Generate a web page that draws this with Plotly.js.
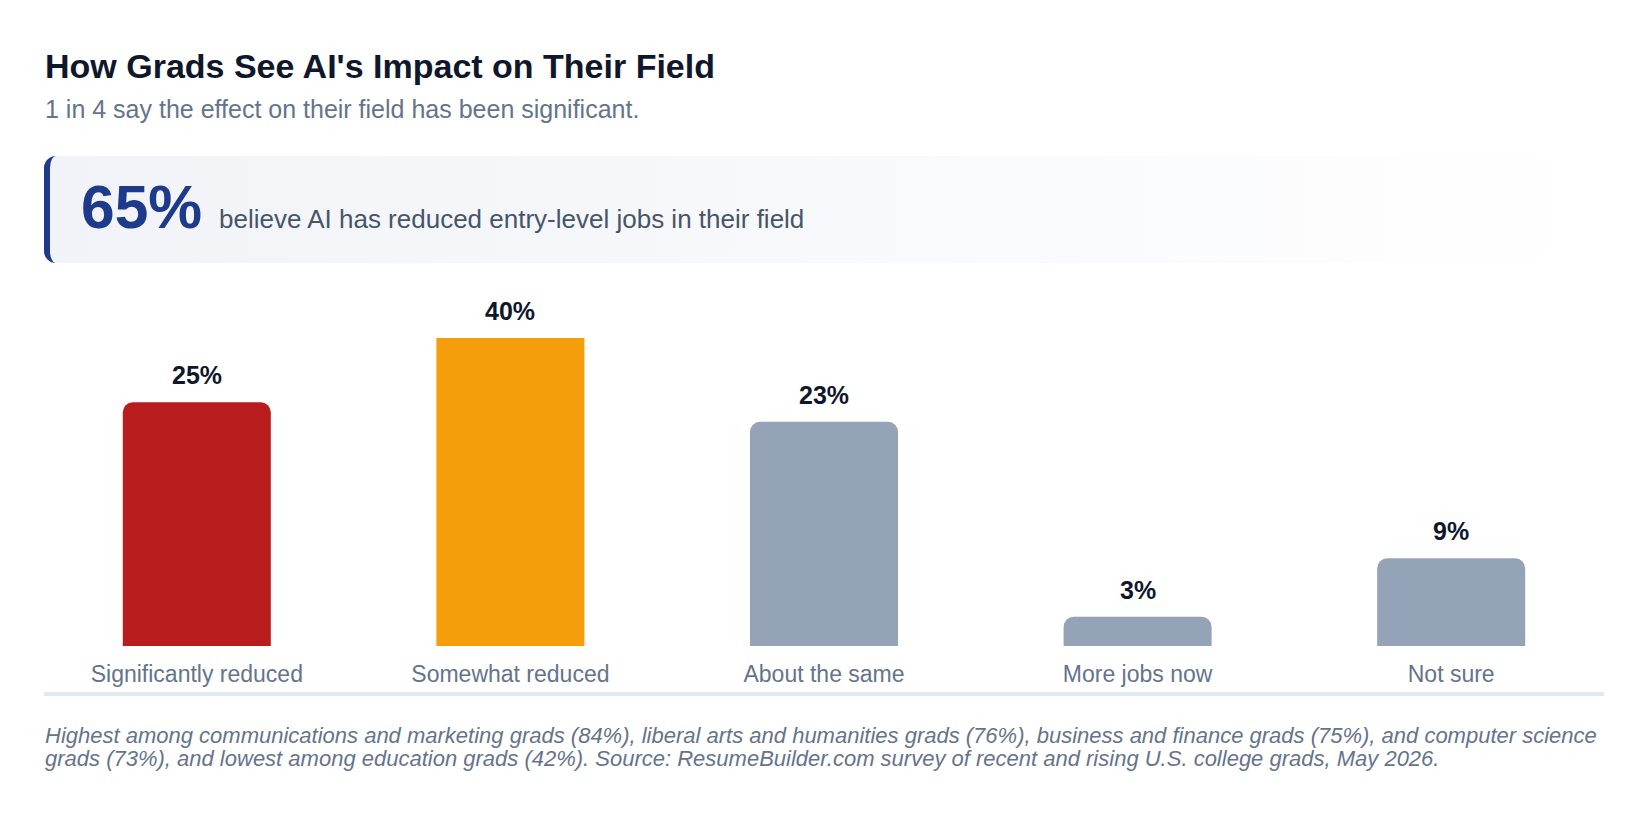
<!DOCTYPE html>
<html>
<head>
<meta charset="utf-8">
<script src="https://cdn.plot.ly/plotly-3.0.1.min.js"></script>
<style>
  html, body { margin: 0; padding: 0; background: #ffffff; }
  #chart { width: 1648px; height: 830px; }
</style>
</head>
<body>
<div id="chart"></div>
<script>
// Survey answers: how grads see AI's effect on entry-level jobs in their field
const categories = ["Significantly reduced", "Somewhat reduced", "About the same", "More jobs now", "Not sure"];
const shares = [25, 40, 23, 3, 9];
const barColors = ["#b91c1c", "#f59e0b", "#94a3b8", "#94a3b8", "#94a3b8"];
const valueLabels = shares.map(v => v + "%");

const headline = "How Grads See AI's Impact on Their Field";
const subhead = "1 in 4 say the effect on their field has been significant.";
const calloutValue = "65%";
const calloutText = "believe AI has reduced entry-level jobs in their field";
const footLines = [
  "Highest among communications and marketing grads (84%), liberal arts and humanities grads (76%), business and finance grads (75%), and computer science",
  "grads (73%), and lowest among education grads (42%). Source: ResumeBuilder.com survey of recent and rising U.S. college grads, May 2026."
];

// Canvas geometry
const W = 1648, H = 830;
const M = { l: 40, r: 40, t: 338, b: 184 };
const plotW = W - M.l - M.r;
const plotH = H - M.t - M.b;
const Y_MAX = 31.6;               // value axis is capped; taller bars run to the top edge
const FONT = "Liberation Sans, Arial, Helvetica, sans-serif";

// pixel -> paper helpers for the text blocks around the plot
const px = x => (x - M.l) / plotW;
const py = y => (H - M.b - y) / plotH;
const DESC = 0.212;               // descender share of the font's box
function textAt(text, x, baseline, size, color, opts) {
  return Object.assign({
    text: text, xref: "paper", yref: "paper",
    x: px(x - 1), y: py(baseline + DESC * size + 1),
    xanchor: "left", yanchor: "bottom", showarrow: false,
    font: { family: FONT, size: size, color: color }
  }, opts || {});
}

// Callout panel: soft horizontal fade with a navy rounded left edge
const boxW = 1560, boxH = 107;
const svg =
  "<svg xmlns='http://www.w3.org/2000/svg' width='" + boxW + "' height='" + boxH + "' viewBox='0 0 " + boxW + " " + boxH + "' preserveAspectRatio='none'>" +
  "<defs><linearGradient id='g' x1='0' y1='0' x2='1' y2='0'>" +
  "<stop offset='0' stop-color='#f1f3f8'/><stop offset='1' stop-color='#ffffff'/>" +
  "</linearGradient></defs>" +
  "<rect x='0' y='0' width='" + boxW + "' height='" + boxH + "' rx='12' ry='12' fill='url(#g)'/>" +
  "<path d='M12,0 A12,12 0 0 0 0,12 L0," + (boxH - 12) + " A12,12 0 0 0 12," + boxH +
  " A6,12 0 0 1 6," + (boxH - 12) + " L6,12 A6,12 0 0 1 12,0 Z' fill='#1e3a8a'/>" +
  "</svg>";
const svgSrc = "data:image/svg+xml;charset=utf-8," + encodeURIComponent(svg);

const bars = {
  type: "bar",
  x: categories,
  y: shares,
  marker: { color: barColors, cornerradius: 10, line: { width: 0 } },
  hoverinfo: "skip",
  showlegend: false
};

// value labels sit just above each bar (clamped to the capped axis)
const valueAnnotations = categories.map((c, i) => ({
  x: c, y: Math.min(shares[i], Y_MAX), xref: "x", yref: "y",
  text: "<b>" + valueLabels[i] + "</b>",
  showarrow: false, xanchor: "center", yanchor: "bottom", yshift: 11,
  font: { family: FONT, size: 25, color: "#0f172a" }
}));

const annotations = [
  textAt("<b>" + headline + "</b>", 44, 78.7, 34, "#0f172a"),
  textAt(subhead, 44, 118.8, 25, "#64748b"),
  textAt("<b>" + calloutValue + "</b>", 80, 228.8, 60.5, "#1e3a8a"),
  textAt(calloutText, 218, 229.3, 26, "#475569"),
  textAt("<i>" + footLines[0] + "</i>", 44, 744.3, 22, "#64748b"),
  textAt("<i>" + footLines[1] + "</i>", 44, 767, 22, "#64748b")
].concat(valueAnnotations);

const layout = {
  width: W, height: H,
  margin: M,
  paper_bgcolor: "#ffffff",
  plot_bgcolor: "#ffffff",
  font: { family: FONT },
  bargap: 0.528,
  showlegend: false,
  xaxis: {
    type: "category",
    showgrid: false, zeroline: false, showline: false,
    ticks: "",
    ticklabelstandoff: 12,
    tickfont: { family: FONT, size: 23, color: "#64748b" },
    fixedrange: true
  },
  yaxis: {
    range: [0, Y_MAX],
    visible: false,
    showgrid: false, zeroline: false,
    fixedrange: true
  },
  shapes: [
    { type: "line", xref: "paper", yref: "paper",
      x0: px(44), x1: px(1604), y0: py(694), y1: py(694),
      line: { color: "#e2e8f0", width: 4 } }
  ],
  images: [
    { source: svgSrc, xref: "paper", yref: "paper",
      x: px(44), y: py(156), sizex: boxW / plotW, sizey: boxH / plotH,
      xanchor: "left", yanchor: "top", sizing: "stretch", layer: "below" }
  ],
  annotations: annotations
};

Plotly.newPlot("chart", [bars], layout, { staticPlot: true, displayModeBar: false });
</script>
</body>
</html>
